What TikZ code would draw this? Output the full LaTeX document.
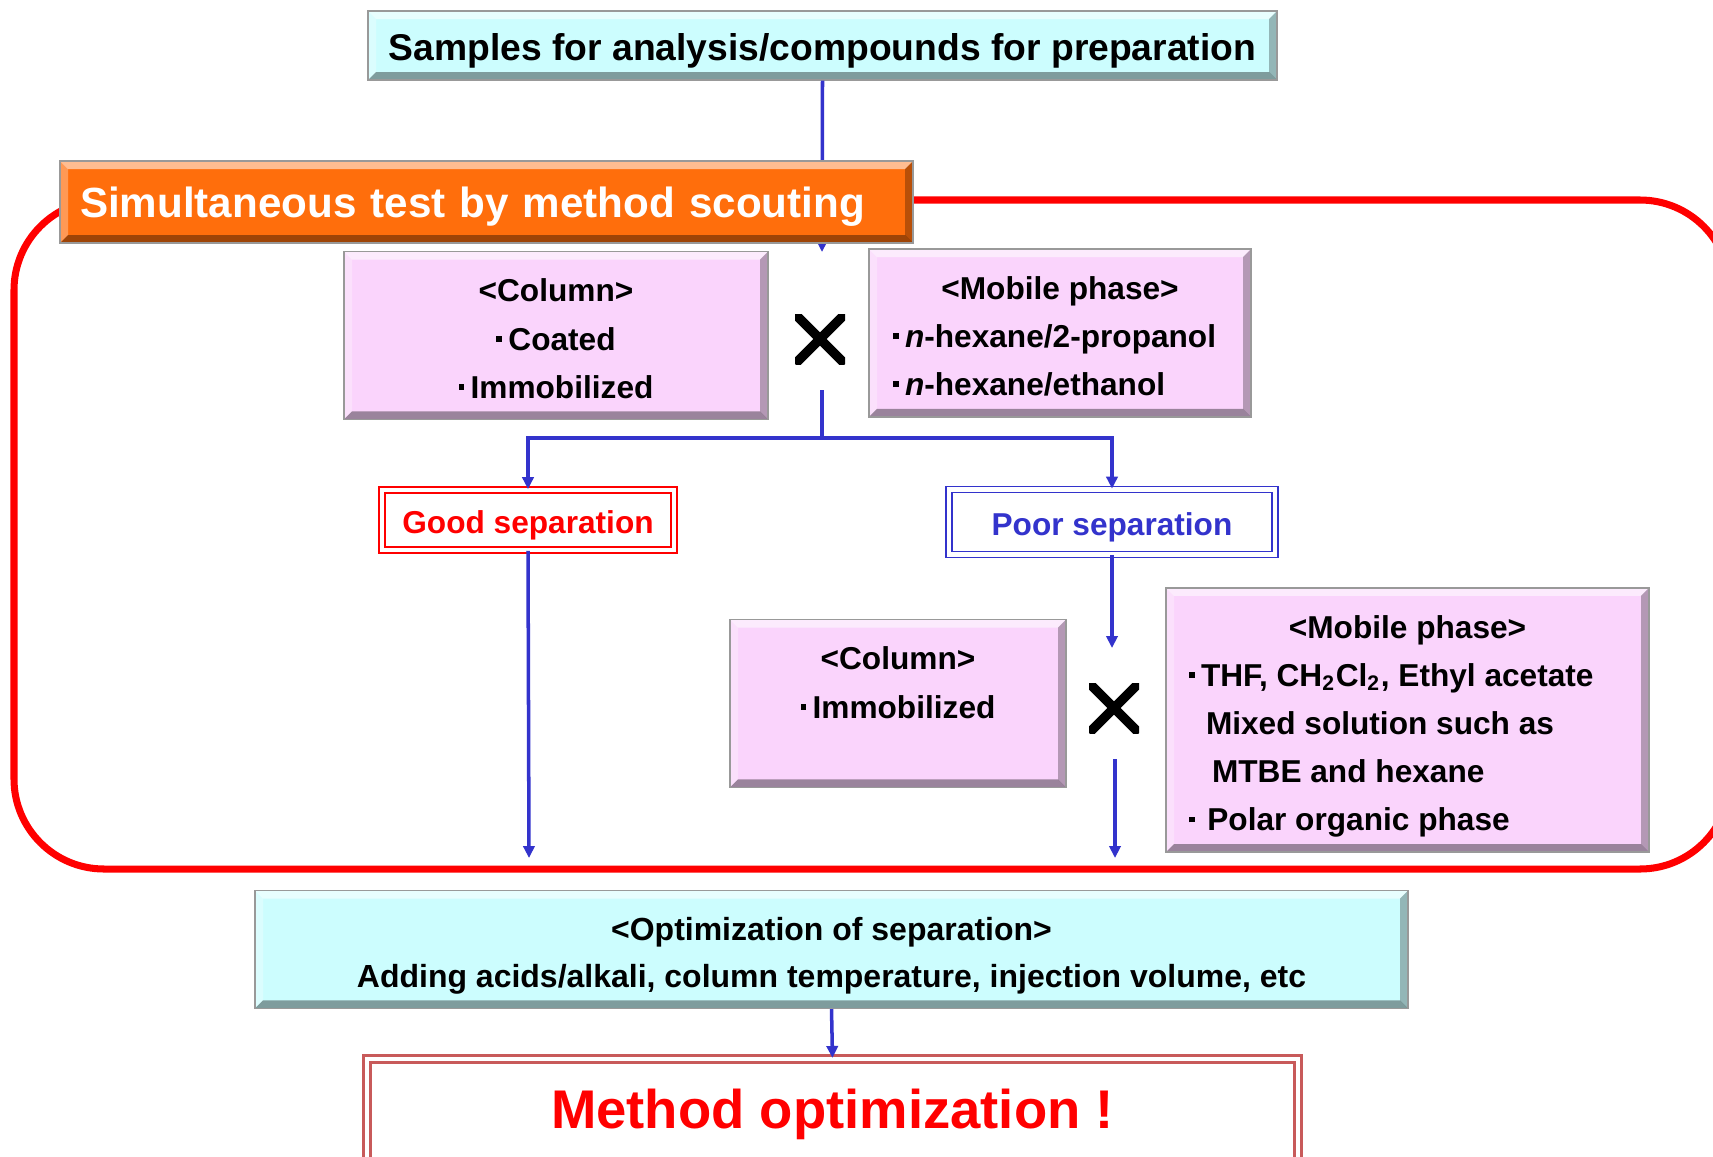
\documentclass[tikz,border=0pt]{standalone}
\usepackage{fontspec}
\setmainfont{Liberation Sans}
\usetikzlibrary{arrows.meta}
\definecolor{boxcyan}{HTML}{CCFDFE}
\definecolor{boxpink}{HTML}{FAD4FC}
\definecolor{scoutorange}{HTML}{FF6E0C}
\definecolor{linkblue}{HTML}{3333CC}
\definecolor{framered}{HTML}{C85A5A}
\newcommand{\sqb}{\raisebox{0.27em}{\rule{0.18em}{0.18em}}\hspace{0.2em}}
\newcommand{\dropit}[1]{\raisebox{-1.4pt}[\height][\depth]{#1}}
\tikzset{
  bevel/.style={draw=black!40, line width=0.4pt, path picture={
      \coordinate (bnw) at (path picture bounding box.north west);
      \coordinate (bse) at (path picture bounding box.south east);
      \coordinate (bne) at (bnw -| bse);
      \coordinate (bsw) at (bse -| bnw);
      \coordinate (inw) at ([shift={(0.8mm,-0.8mm)}]bnw);
      \coordinate (ine) at ([shift={(-0.8mm,-0.8mm)}]bne);
      \coordinate (ise) at ([shift={(-0.8mm,0.8mm)}]bse);
      \coordinate (isw) at ([shift={(0.8mm,0.8mm)}]bsw);
      \fill[white,opacity=.55] (bnw) -- (bne) -- (ine) -- (inw) -- cycle;
      \fill[white,opacity=.3] (bnw) -- (inw) -- (isw) -- (bsw) -- cycle;
      \fill[black,opacity=.28] (bne) -- (bse) -- (ise) -- (ine) -- cycle;
      \fill[black,opacity=.38] (bsw) -- (isw) -- (ise) -- (bse) -- cycle;
    }},
  cyanbox/.style={bevel, fill=boxcyan},
  pinkbox/.style={bevel, fill=boxpink, font=\bfseries\fontsize{9}{13.7}\selectfont},
  sepbox/.style={fill=white, double=white, double distance=1.2pt, line width=0.5pt,
    font=\bfseries\fontsize{9}{11}\selectfont},
  arrow/.style={draw=linkblue, line width=1pt, -{Triangle[length=3.4pt,width=3.2pt]}},
  cross/.style={minimum size=5mm, inner sep=0pt, path picture={
      \draw[line width=2.7pt] (path picture bounding box.north west) -- (path picture bounding box.south east)
        (path picture bounding box.north east) -- (path picture bounding box.south west);}}
}
\begin{document}
\begin{tikzpicture}[x=0.1mm,y=-0.1mm]
  \useasboundingbox (0,0) rectangle (1713,1156);
  \node[cyanbox, minimum width=90.9mm, minimum height=6.9mm, font=\bfseries\fontsize{10.6}{13}\selectfont] (samples) at (822.5,45.5) {\dropit{Samples for analysis/compounds for preparation}};
  % scouting frame
  \draw[red, line width=2pt, rounded corners=9mm] (14,200) rectangle (1730,869);
  \coordinate (scoutin) at (822,252);
  \draw[arrow] (samples.south) -- (scoutin);
  \node[bevel, fill=scoutorange, minimum width=85.3mm, minimum height=8.2mm, text width=81.3mm, align=left, text=white, font=\bfseries\fontsize{12}{14}\selectfont] (scout) at (486.5,202) {\dropit{Simultaneous test by method scouting}};
  % first screening
  \node[pinkbox, minimum width=42.4mm, minimum height=15.9mm] (col1) at (556,335.5) {\dropit{\begin{tabular}{@{}c@{}}
    <Column>\\
    \sqb Coated\\
    \sqb Immobilized
  \end{tabular}}};
  \node[cross] (mul1) at (820,339) {};
  \node[pinkbox, minimum width=38.2mm, minimum height=16.2mm] (mob1) at (1060,333) {\dropit{\begin{tabular}{@{}p{33.4mm}@{}}
    \multicolumn{1}{@{}c@{}}{<Mobile phase>}\\
    \sqb\textit{n}-hexane/2-propanol\\
    \sqb\textit{n}-hexane/ethanol
  \end{tabular}}};
  \coordinate (mul1out) at (822,390);
  \node[sepbox, draw=red, text=red, minimum width=29.2mm, minimum height=6.0mm] (good) at (528,520) {\dropit{Good separation}};
  \node[sepbox, draw=linkblue, text=linkblue, minimum width=32.6mm, minimum height=6.5mm] (poor) at (1112,522) {\dropit{Poor separation}};
  \draw[arrow] (mul1out) -- ++(0,48) -| (good.north);
  \draw[arrow] (mul1out) -- ++(0,48) -| (poor.north);
  \coordinate (goodend) at (529,858);
  \draw[arrow] (good.south) -- (goodend);
  \coordinate (poorend) at (1112,648);
  \draw[arrow] (poor.south) -- (poorend);
  % second screening
  \node[pinkbox, minimum width=33.6mm, minimum height=16.1mm] (col2) at (898,703.5) {\dropit{\begin{tabular}{@{}c@{}}
    <Column>\\
    \sqb Immobilized\\
    \mbox{}
  \end{tabular}}};
  \node[cross] (mul2) at (1114,708) {};
  \node[pinkbox, minimum width=48.3mm, minimum height=25.8mm] (mob2) at (1407.5,720) {\dropit{\begin{tabular}{@{}p{43.7mm}@{}}
    \multicolumn{1}{@{}c@{}}{<Mobile phase>}\\
    \sqb THF, CH\textsubscript{2}Cl\textsubscript{2}, Ethyl acetate\\
    \hspace{1.7mm}Mixed solution such as\\
    \hspace{2.3mm}MTBE and hexane\\
    \sqb\hspace{0.2em}Polar organic phase
  \end{tabular}}};
  \coordinate (mul2out) at (1115,759);
  \coordinate (mul2end) at (1115,858);
  \draw[arrow] (mul2out) -- (mul2end);
  % optimization
  \node[cyanbox, minimum width=115.3mm, minimum height=11.3mm, font=\bfseries\fontsize{9.1}{13.4}\selectfont] (opt) at (831.5,949.5) {\dropit{\begin{tabular}{@{}c@{}}
    <Optimization of separation>\\
    Adding acids/alkali, column temperature, injection volume, etc
  \end{tabular}}};
  \node[draw=framered, double=white, double distance=1.4pt, line width=0.6pt, fill=white, minimum width=93.1mm, minimum height=11mm, text=red, font=\bfseries\fontsize{15.5}{18}\selectfont] (method) at (832.5,1114) {Method optimization !};
  \draw[arrow] (opt.south) -- (method.north);
\end{tikzpicture}
\end{document}
